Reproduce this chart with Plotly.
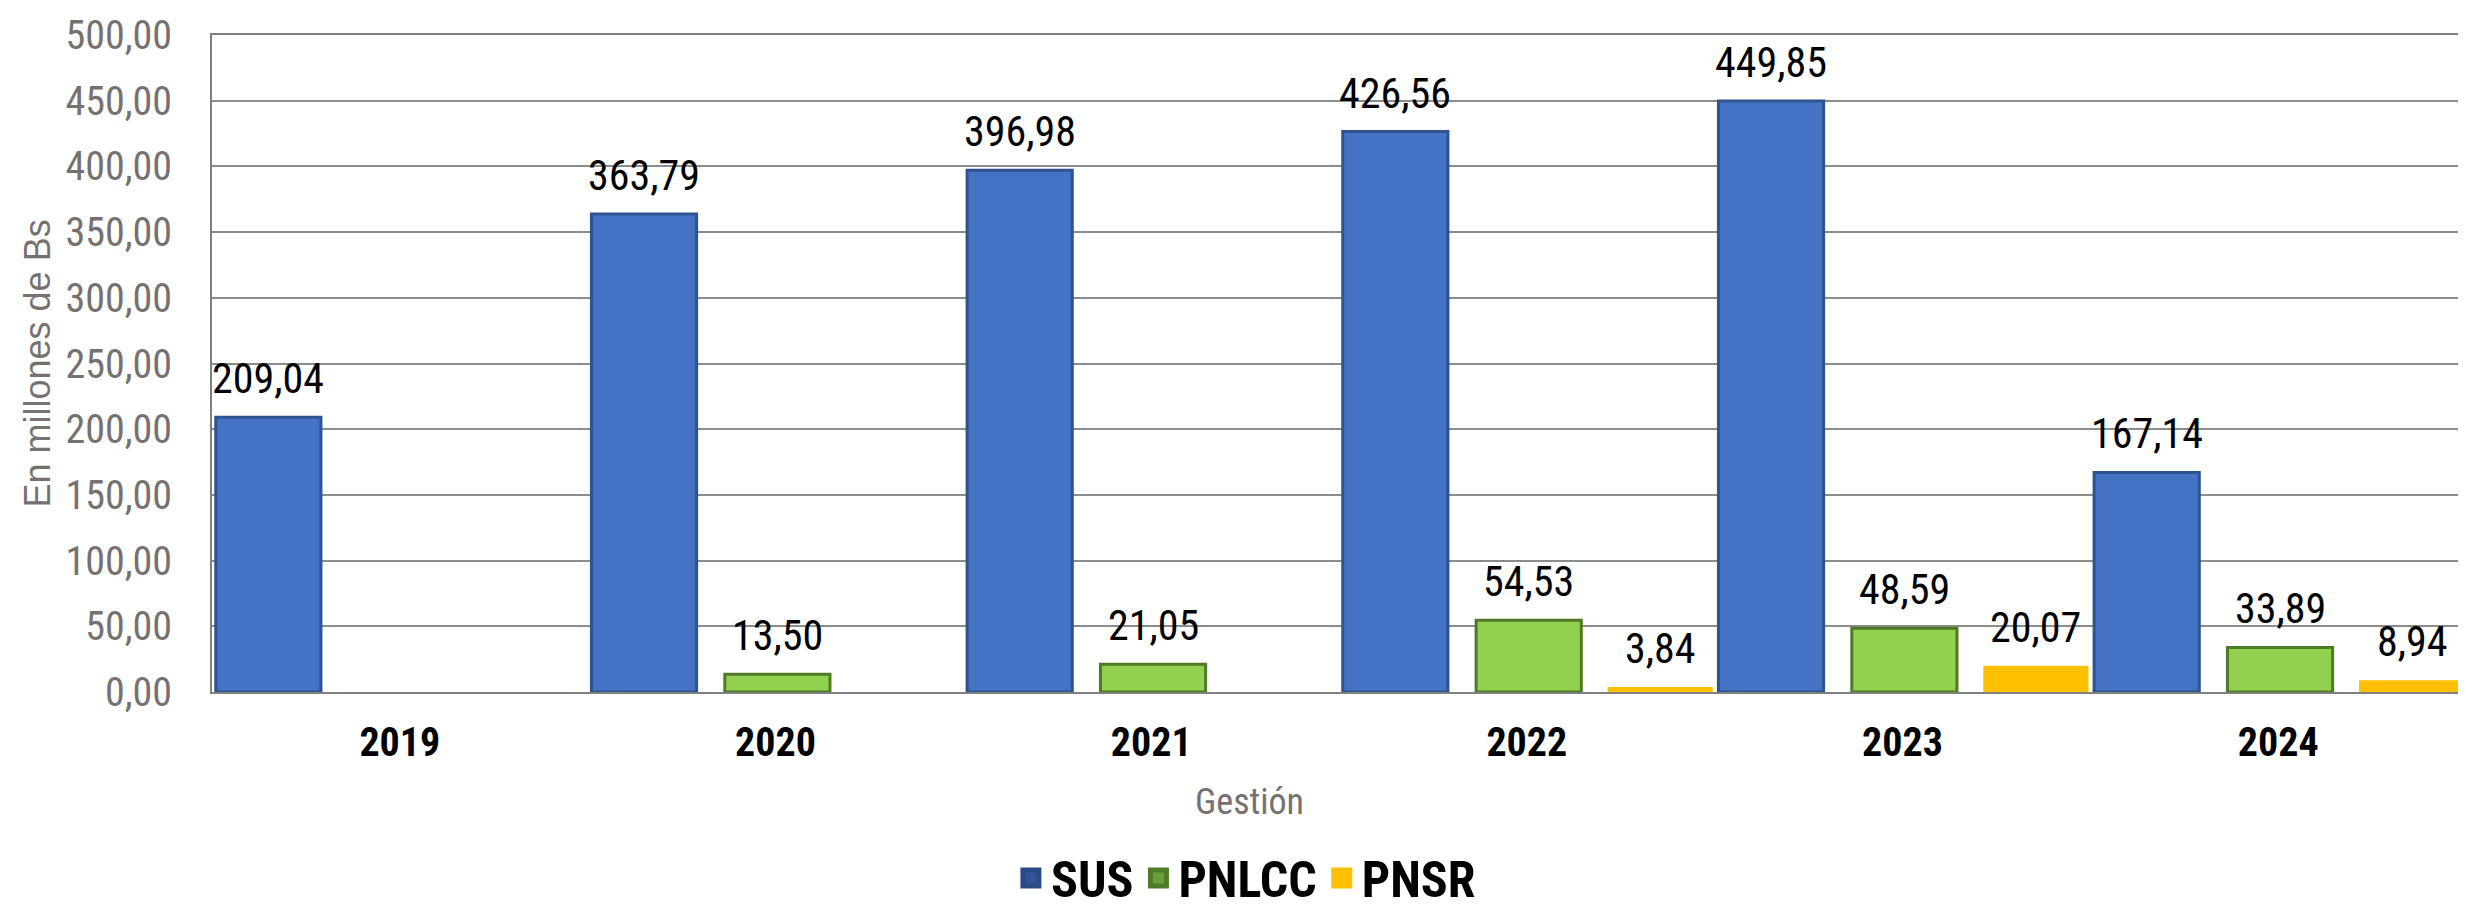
import plotly.graph_objects as go

years = ["2019", "2020", "2021", "2022", "2023", "2024"]
sus = [209.04, 363.79, 396.98, 426.56, 449.85, 167.14]
pnlcc = [None, 13.50, 21.05, 54.53, 48.59, 33.89]
pnsr = [None, None, None, 3.84, 20.07, 8.94]

series = [
    ("SUS", sus, "#4472C4", "#2F5290", 3, "#2F5597", "#2A4A85"),
    ("PNLCC", pnlcc, "#92D050", "#4F7A28", 3, "#6A9F3A", "#4F7A28"),
    ("PNSR", pnsr, "#FFC000", "#FFC000", 0, "#FFC000", "#FFC000"),
]
offsets = [-0.49, -0.135, 0.215]
bar_w = 0.28

NARROW = "Liberation Sans Narrow, Arial Narrow, Roboto Condensed, sans-serif"
GRAY = "#767171"

fig = go.Figure()
annotations = []
for (name, vals, fill, edge, lw, lfill, ledge), off in zip(series, offsets):
    fig.add_trace(go.Bar(
        x=years, y=vals, name=name, showlegend=False,
        width=[bar_w] * len(years), offset=[off] * len(years),
        marker=dict(color=fill, line=dict(color=edge, width=lw)),
        hoverinfo="x+y",
    ))
    fig.add_trace(go.Scatter(
        x=[None], y=[None], name=name, mode="markers",
        marker=dict(symbol="square", size=16, color=lfill,
                    line=dict(color=ledge, width=5)),
    ))
    for i, v in enumerate(vals):
        if v is None:
            continue
        annotations.append(dict(
            x=i + off + bar_w / 2, y=v, xref="x", yref="y",
            text=f"{v:.2f}".replace(".", ","), showarrow=False,
            yanchor="bottom", xanchor="center", yshift=12,
            font=dict(family=NARROW, size=42, color="black"),
        ))

annotations.append(dict(
    x=-0.0772, y=0.5, xref="paper", yref="paper", text="En millones de Bs",
    textangle=-90, showarrow=False, xanchor="center", yanchor="middle",
    font=dict(family="Liberation Sans, Arial, sans-serif", size=36, color=GRAY),
))
annotations.append(dict(
    x=0.4605, y=-0.1674, xref="paper", yref="paper", text="Gestión",
    showarrow=False, xanchor="center", yanchor="middle",
    font=dict(family=NARROW, size=36, color=GRAY),
))

fig.update_layout(
    width=2466, height=906,
    margin=dict(l=204, r=8, t=27, b=222, autoexpand=False),
    paper_bgcolor="white", plot_bgcolor="white",
    separators=",.",
    barmode="overlay",
    annotations=annotations,
    legend=dict(
        orientation="h", x=0.4587, y=-0.283, xanchor="center", yanchor="middle",
        font=dict(family=NARROW, size=50, color="black", weight="bold"),
        itemwidth=30, tracegroupgap=0,
    ),
    xaxis=dict(
        type="category", categoryorder="array", categoryarray=years,
        range=[-0.5, 5.5],
        showline=True, linecolor="#808080", linewidth=2, mirror=True,
        showgrid=False, ticks="", ticklabelstandoff=14,
        tickfont=dict(family=NARROW, size=40, color="black", weight="bold"),
    ),
    yaxis=dict(
        range=[0, 500], dtick=50, tickformat=".2f",
        showline=True, linecolor="#808080", linewidth=2, mirror=True,
        showgrid=True, gridcolor="#8C8C8C", gridwidth=2,
        zeroline=False, ticks="", ticklabelstandoff=30,
        tickfont=dict(family=NARROW, size=40, color=GRAY),
    ),
)

fig.write_html("out.html")
